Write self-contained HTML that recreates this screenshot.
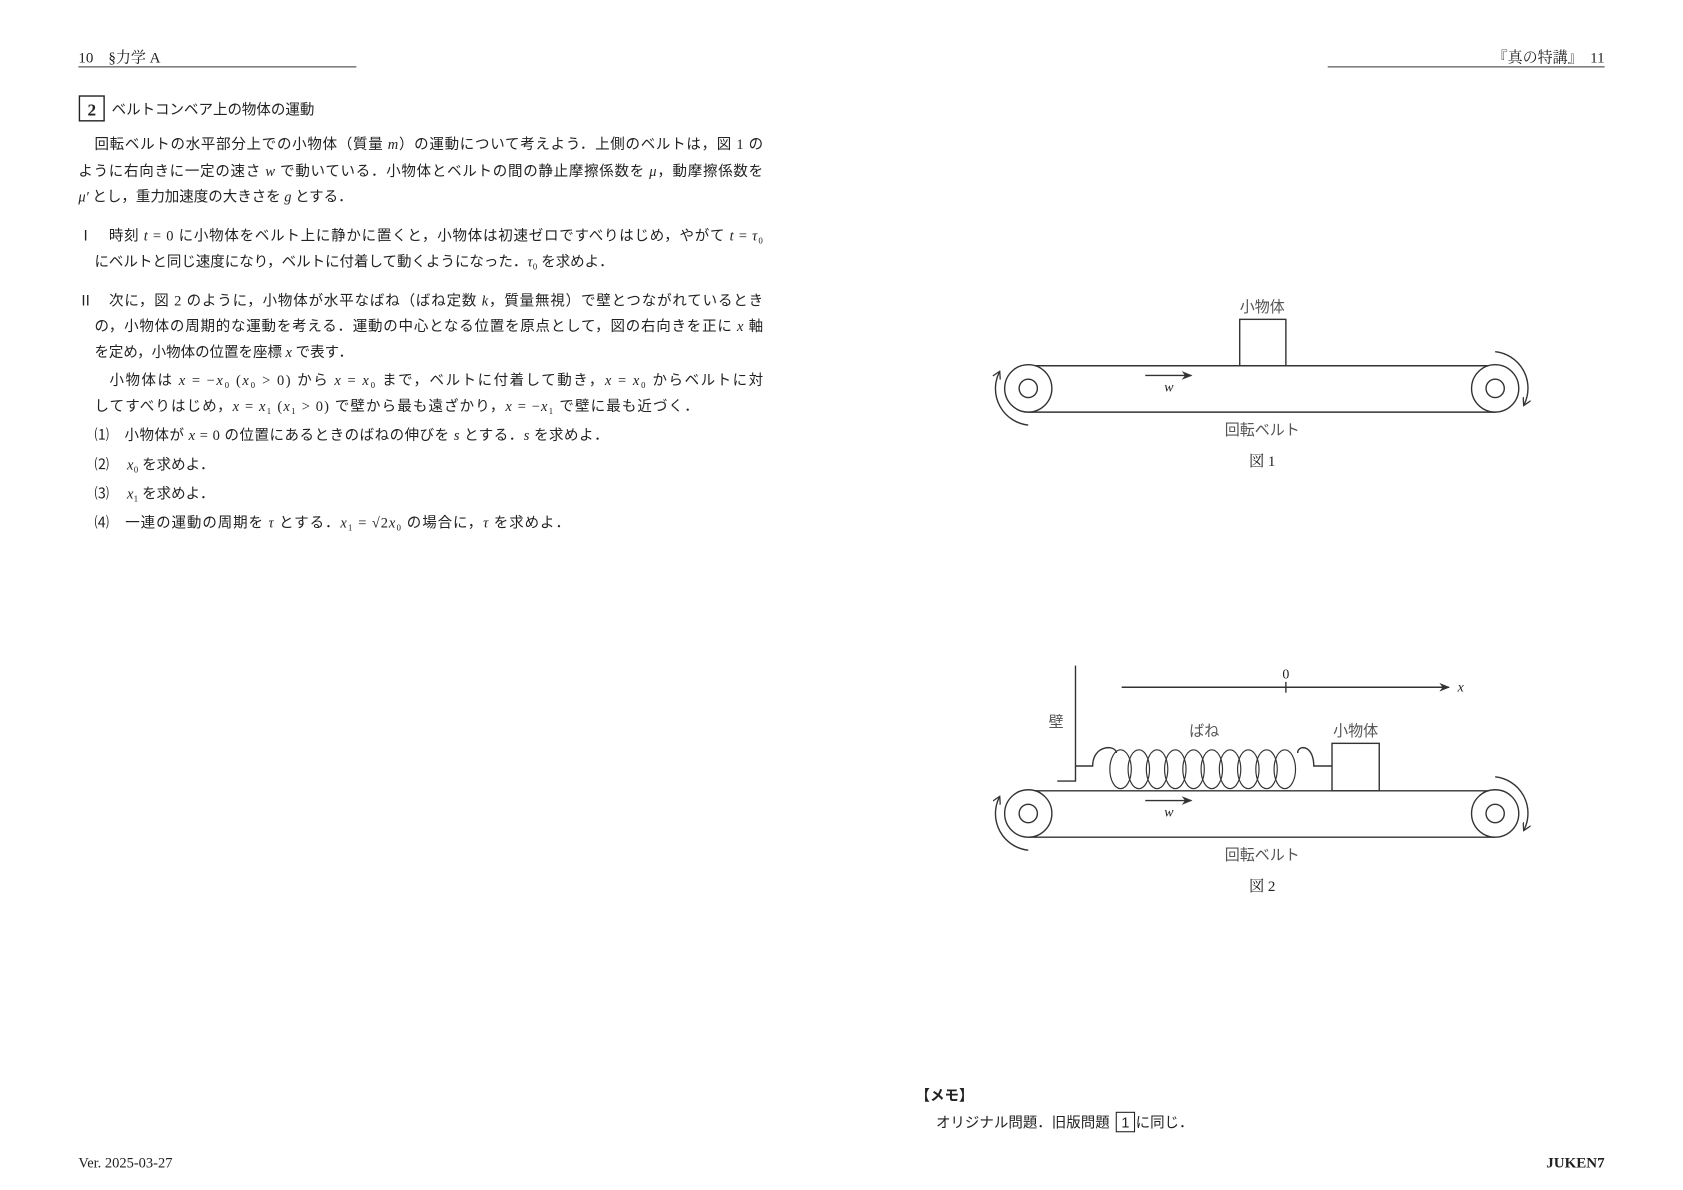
<!DOCTYPE html>
<html><head><meta charset="utf-8"><style>
html,body{margin:0;padding:0;background:#fff}
svg{display:block}
.s{font-family:"Liberation Serif","Noto Serif CJK JP",serif;fill:#222}
.j{font-family:"Liberation Serif","Noto Sans CJK JP",sans-serif;fill:#222;font-size:13.5px}
.i{font-style:italic;font-family:"Liberation Serif",serif}
.g{font-family:"Liberation Sans","Noto Sans CJK JP",sans-serif;fill:#555;font-size:14px}
</style></head><body>
<svg width="1683" height="1190" viewBox="0 0 1568 1103" preserveAspectRatio="none" xmlns="http://www.w3.org/2000/svg">
<rect width="1568" height="1103" fill="#fff"/>
<text x="73" y="58" class="s" font-size="14">10　§力学 A</text>
<line x1="73" y1="62" x2="332" y2="62" stroke="#333" stroke-width="1"/>
<text x="1495" y="58" class="s" font-size="14" text-anchor="end">『真の特講』　11</text>
<line x1="1237" y1="62" x2="1495" y2="62" stroke="#333" stroke-width="1"/>
<rect x="74" y="89" width="23" height="23" fill="none" stroke="#222" stroke-width="1.3"/>
<text x="85.5" y="107" class="s" font-size="16" font-weight="bold" text-anchor="middle">2</text>
<text x="104" y="106" class="j" font-size="13.5" font-family="Liberation Sans,Noto Sans CJK JP,sans-serif">ベルトコンベア上の物体の運動</text>
<g class="j">
<text x="88" y="138" textLength="623">回転ベルトの水平部分上での小物体（質量 <tspan class="i">m</tspan>）の運動について考えよう．上側のベルトは，図 1 の</text>
<text x="73" y="163" textLength="638">ように右向きに一定の速さ <tspan class="i">w</tspan> で動いている．小物体とベルトの間の静止摩擦係数を <tspan class="i">μ</tspan>，動摩擦係数を</text>
<text x="73" y="187"><tspan class="i">μ′</tspan> とし，重力加速度の大きさを <tspan class="i">g</tspan> とする．</text>
<text x="73" y="223" textLength="638">Ⅰ　時刻 <tspan class="i">t</tspan> = 0 に小物体をベルト上に静かに置くと，小物体は初速ゼロですべりはじめ，やがて <tspan class="i">t</tspan> = <tspan class="i">τ</tspan>₀</text>
<text x="88" y="247">にベルトと同じ速度になり，ベルトに付着して動くようになった．<tspan class="i">τ</tspan>₀ を求めよ．</text>
<text x="73" y="283" textLength="638">Ⅱ　次に，図 2 のように，小物体が水平なばね（ばね定数 <tspan class="i">k</tspan>，質量無視）で壁とつながれているとき</text>
<text x="88" y="307" textLength="623">の，小物体の周期的な運動を考える．運動の中心となる位置を原点として，図の右向きを正に <tspan class="i">x</tspan> 軸</text>
<text x="88" y="331">を定め，小物体の位置を座標 <tspan class="i">x</tspan> で表す．</text>
<text x="102" y="357" textLength="609">小物体は <tspan class="i">x</tspan> = −<tspan class="i">x</tspan>₀ (<tspan class="i">x</tspan>₀ &gt; 0) から <tspan class="i">x</tspan> = <tspan class="i">x</tspan>₀ まで，ベルトに付着して動き，<tspan class="i">x</tspan> = <tspan class="i">x</tspan>₀ からベルトに対</text>
<text x="88" y="381" textLength="563">してすべりはじめ，<tspan class="i">x</tspan> = <tspan class="i">x</tspan>₁ (<tspan class="i">x</tspan>₁ &gt; 0) で壁から最も遠ざかり，<tspan class="i">x</tspan> = −<tspan class="i">x</tspan>₁ で壁に最も近づく．</text>
<text x="88" y="408" textLength="479">⑴　小物体が <tspan class="i">x</tspan> = 0 の位置にあるときのばねの伸びを <tspan class="i">s</tspan> とする．<tspan class="i">s</tspan> を求めよ．</text>
<text x="88" y="435">⑵　 <tspan class="i">x</tspan>₀ を求めよ．</text>
<text x="88" y="462">⑶　 <tspan class="i">x</tspan>₁ を求めよ．</text>
<text x="88" y="489" textLength="443">⑷　一連の運動の周期を <tspan class="i">τ</tspan> とする．<tspan class="i">x</tspan>₁ = √2<tspan class="i">x</tspan>₀ の場合に，<tspan class="i">τ</tspan> を求めよ．</text>
</g>
<defs>
<marker id="ah" markerWidth="10" markerHeight="8" refX="9" refY="4" orient="auto" markerUnits="userSpaceOnUse"><path d="M0,0 L10,4 L0,8 L3,4 Z" fill="#333"/></marker>
<marker id="ah2" markerWidth="8" markerHeight="8" refX="6" refY="4" orient="auto" markerUnits="userSpaceOnUse"><path d="M0,0 L7,4 L0,8" fill="none" stroke="#333" stroke-width="1.2"/></marker>
</defs>
<g stroke="#333" stroke-width="1.3" fill="none">
<rect x="1155" y="296" width="43" height="43"/>
<line x1="958" y1="339" x2="1393" y2="339"/>
<line x1="958" y1="382" x2="1393" y2="382"/>
<circle cx="958" cy="360" r="22" fill="#fff"/><circle cx="958" cy="360" r="8.5"/>
<circle cx="1393" cy="360" r="22" fill="#fff"/><circle cx="1393" cy="360" r="8.5"/>
<line x1="1067" y1="348" x2="1110" y2="348" marker-end="url(#ah)"/>
<path d="M958,394 A34,34 0 0 1 931,345" marker-end="url(#ah2)"/>
<path d="M1393,326 A34,34 0 0 1 1420,375" marker-end="url(#ah2)"/>
</g>
<text x="1176" y="289" class="g" text-anchor="middle">小物体</text>
<text x="1089" y="363" class="s i" font-size="13" text-anchor="middle">w</text>
<text x="1176" y="403" class="g" text-anchor="middle">回転ベルト</text>
<text x="1176" y="432" class="s" font-size="14" text-anchor="middle">図 1</text>
<g stroke="#333" stroke-width="1.3" fill="none">
<polyline points="1002,617 1002,724 985,724"/>
<line x1="1045" y1="637" x2="1350" y2="637" marker-end="url(#ah)"/>
<line x1="1198" y1="632" x2="1198" y2="642"/>
<rect x="1241" y="689" width="44" height="44"/>
<line x1="958" y1="733" x2="1393" y2="733"/>
<line x1="958" y1="776" x2="1393" y2="776"/>
<circle cx="958" cy="754" r="22" fill="#fff"/><circle cx="958" cy="754" r="8.5"/>
<circle cx="1393" cy="754" r="22" fill="#fff"/><circle cx="1393" cy="754" r="8.5"/>
<line x1="1067" y1="742" x2="1110" y2="742" marker-end="url(#ah)"/>
<path d="M958,788 A34,34 0 0 1 931,739" marker-end="url(#ah2)"/>
<path d="M1393,720 A34,34 0 0 1 1420,769" marker-end="url(#ah2)"/>
<path d="M1002,710 L1018,710 C1018,690 1040,690 1040,698"/>
<path d="M1209,698 C1209,690 1224,690 1224,710 L1241,710"/>
<g stroke-width="1.1">
<ellipse cx="1044" cy="713" rx="10" ry="18"/>
<ellipse cx="1061" cy="713" rx="10" ry="18"/>
<ellipse cx="1078" cy="713" rx="10" ry="18"/>
<ellipse cx="1095" cy="713" rx="10" ry="18"/>
<ellipse cx="1112" cy="713" rx="10" ry="18"/>
<ellipse cx="1129" cy="713" rx="10" ry="18"/>
<ellipse cx="1146" cy="713" rx="10" ry="18"/>
<ellipse cx="1163" cy="713" rx="10" ry="18"/>
<ellipse cx="1180" cy="713" rx="10" ry="18"/>
<ellipse cx="1197" cy="713" rx="10" ry="18"/>
</g>
</g>
<text x="1198" y="629" class="s" font-size="13" fill="#555" text-anchor="middle">0</text>
<text x="1358" y="641" class="s i" font-size="13" fill="#555">x</text>
<text x="984" y="674" class="g" text-anchor="middle">壁</text>
<text x="1122" y="682" class="g" text-anchor="middle">ばね</text>
<text x="1263" y="682" class="g" text-anchor="middle">小物体</text>
<text x="1089" y="757" class="s i" font-size="13" text-anchor="middle">w</text>
<text x="1176" y="797" class="g" text-anchor="middle">回転ベルト</text>
<text x="1176" y="826" class="s" font-size="14" text-anchor="middle">図 2</text>
<text x="853" y="1020" font-family="Liberation Sans,Noto Sans CJK JP,sans-serif" font-size="13.5" font-weight="bold" fill="#222">【メモ】</text>
<text x="872" y="1045" font-family="Liberation Sans,Noto Sans CJK JP,sans-serif" font-size="13.5" fill="#222">オリジナル問題．旧版問題</text>
<rect x="1040" y="1031" width="17" height="18" fill="none" stroke="#222" stroke-width="1"/>
<text x="1048.5" y="1045" font-family="Liberation Sans,sans-serif" font-size="13.5" fill="#222" text-anchor="middle">1</text>
<text x="1058" y="1045" font-family="Liberation Sans,Noto Sans CJK JP,sans-serif" font-size="13.5" fill="#222">に同じ．</text>
<text x="73" y="1082" class="s" font-size="13.5">Ver. 2025-03-27</text>
<text x="1495" y="1082" class="s" font-size="14" font-weight="bold" text-anchor="end">JUKEN7</text>
</svg>
</body></html>
